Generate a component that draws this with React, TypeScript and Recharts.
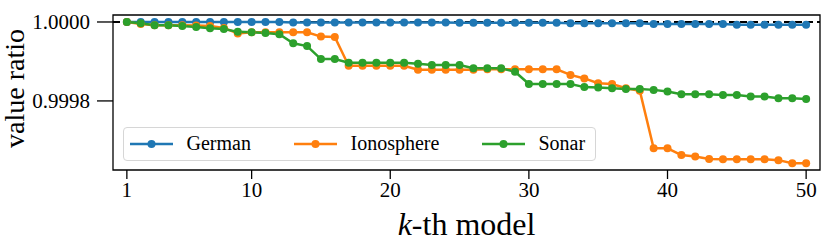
import React from 'react';
import { LineChart, Line, XAxis, YAxis, ReferenceLine, ReferenceArea, Label } from 'recharts';

const models = Array.from({ length: 50 }, (_, i) => i + 1);

const german = [
  1.0, 1.0, 1.0, 1.0, 1.0, 1.0, 1.0, 1.0, 1.0, 1.0,
  1.0, 1.0, 0.999999, 0.999999, 0.999999, 0.999999, 0.999999, 0.999999, 0.999999, 0.999999,
  0.999999, 0.999999, 0.999999, 0.999999, 0.999998, 0.999998, 0.999998, 0.999998, 0.999998, 0.999998,
  0.999998, 0.999998, 0.999997, 0.999997, 0.999997, 0.999997, 0.999997, 0.999997, 0.999995, 0.999995,
  0.999995, 0.999995, 0.999995, 0.999995, 0.999993, 0.999993, 0.999993, 0.999993, 0.999993, 0.999993,
];

const ionosphere = [
  1.0, 0.999995, 0.999992, 0.999992, 0.999992, 0.999991, 0.99999, 0.999985, 0.999971, 0.999974,
  0.999974, 0.999974, 0.999974, 0.999974, 0.999963, 0.999962, 0.999889, 0.999889, 0.999889, 0.999889,
  0.999889, 0.999879, 0.999879, 0.999879, 0.999879, 0.999879, 0.99988, 0.99988, 0.99988, 0.99988,
  0.99988, 0.99988, 0.999866, 0.999857, 0.999845, 0.999843, 0.999832, 0.999826, 0.99968, 0.99968,
  0.999663, 0.999659, 0.999653, 0.999652, 0.999652, 0.999652, 0.999652, 0.99965, 0.999642, 0.999642,
];

const sonar = [
  1.0, 0.999997, 0.999992, 0.999992, 0.99999, 0.999987, 0.999984, 0.999982, 0.999975, 0.999974,
  0.999972, 0.999969, 0.999946, 0.999939, 0.999906, 0.999906, 0.999897, 0.999897, 0.999897, 0.999897,
  0.999897, 0.999894, 0.999891, 0.999891, 0.999891, 0.999883, 0.999883, 0.999883, 0.999874, 0.999843,
  0.999843, 0.999843, 0.999843, 0.999835, 0.999834, 0.999832, 0.99983, 0.99983, 0.999828, 0.999824,
  0.999817, 0.999817, 0.999817, 0.999815, 0.999815, 0.999811, 0.999811, 0.999807, 0.999807, 0.999805,
];

const xTicks = [1, 10, 20, 30, 40, 50];
const yTicks = [0.9998, 1.0];

const data = models.map((k, i) => ({ k, German: german[i], Ionosphere: ionosphere[i], Sonar: sonar[i] }));

const series = [
  { key: 'German', color: '#1f77b4' },
  { key: 'Ionosphere', color: '#ff7f0e' },
  { key: 'Sonar', color: '#2ca02c' },
];

const FONT = '"Liberation Serif", serif';
const X_DOMAIN: [number, number] = [0, 51];
const Y_DOMAIN: [number, number] = [0.999625, 1.0000177];

function XLabel(props: any) {
  const { viewBox } = props;
  const cx = viewBox.x + viewBox.width / 2;
  return (
    <text x={cx} y={viewBox.y + 65} textAnchor="middle" fontFamily={FONT} fontSize={32} fill="#000">
      <tspan fontStyle="italic">k</tspan>
      <tspan>-th model</tspan>
    </text>
  );
}

function YLabel(props: any) {
  const { viewBox } = props;
  const cy = viewBox.y + viewBox.height / 2 - 4;
  return (
    <text
      x={24}
      y={cy}
      transform={`rotate(-90, 24, ${cy})`}
      textAnchor="middle"
      fontFamily={FONT}
      fontSize={28}
      fill="#000"
    >
      value ratio
    </text>
  );
}

// legend item offsets inside the box
const legendSlots = [7, 171, 359];

function LegendBox() {
  return (
    <div
      style={{
        position: 'absolute',
        left: 123,
        top: 127,
        width: 473,
        height: 34,
        boxSizing: 'border-box',
        border: '1.5px solid #d6d6d6',
        borderRadius: 4,
        background: 'rgba(255,255,255,0.85)',
        fontFamily: FONT,
        fontSize: 20,
        color: '#000',
      }}
    >
      {series.map((s, i) => (
        <div key={s.key} style={{ position: 'absolute', left: legendSlots[i] - 1.5, top: 0, height: 31, display: 'flex', alignItems: 'center' }}>
          <svg width={43} height={12} style={{ marginRight: 14 }}>
            <line x1={0} y1={6} x2={43} y2={6} stroke={s.color} strokeWidth={2.5} />
            <circle cx={21.5} cy={6} r={4} fill={s.color} />
          </svg>
          <span>{s.key}</span>
        </div>
      ))}
    </div>
  );
}

export default function App() {
  return (
    <div style={{ position: 'absolute', left: 0, top: 0, width: 830, height: 241, background: '#fff' }}>
      <LineChart width={830} height={241} data={data} margin={{ top: 15, right: 10, bottom: 0, left: 0 }}>
        <XAxis
          dataKey="k"
          type="number"
          domain={X_DOMAIN}
          ticks={xTicks}
          interval={0}
          allowDataOverflow
          height={71}
          tickSize={9}
          tickMargin={3}
          axisLine={false}
          tickLine={{ stroke: '#000', strokeWidth: 1.3 }}
          tick={{ fill: '#000', fontSize: 21, fontFamily: FONT }}
        >
          <Label content={XLabel} />
        </XAxis>
        <YAxis
          type="number"
          domain={Y_DOMAIN}
          ticks={yTicks}
          interval={0}
          allowDataOverflow
          width={113}
          tickSize={16}
          tickMargin={7}
          axisLine={false}
          tickLine={{ stroke: '#000', strokeWidth: 1.3 }}
          tick={{ fill: '#000', fontSize: 21, fontFamily: FONT }}
          tickFormatter={(v: number) => v.toFixed(4)}
        >
          <Label content={YLabel} />
        </YAxis>
        <ReferenceLine y={1} stroke="#000" strokeWidth={2} strokeDasharray="7 4" />
        {series.map((s) => (
          <Line
            key={s.key}
            dataKey={s.key}
            stroke={s.color}
            strokeWidth={2.5}
            dot={{ r: 4, fill: s.color, stroke: s.color, strokeWidth: 0 }}
            activeDot={false}
            isAnimationActive={false}
          />
        ))}
        <ReferenceArea x1={X_DOMAIN[0]} x2={X_DOMAIN[1]} y1={Y_DOMAIN[0]} y2={Y_DOMAIN[1]} fill="none" stroke="#000" strokeWidth={1.3} ifOverflow="visible" />
      </LineChart>
      <LegendBox />
    </div>
  );
}
